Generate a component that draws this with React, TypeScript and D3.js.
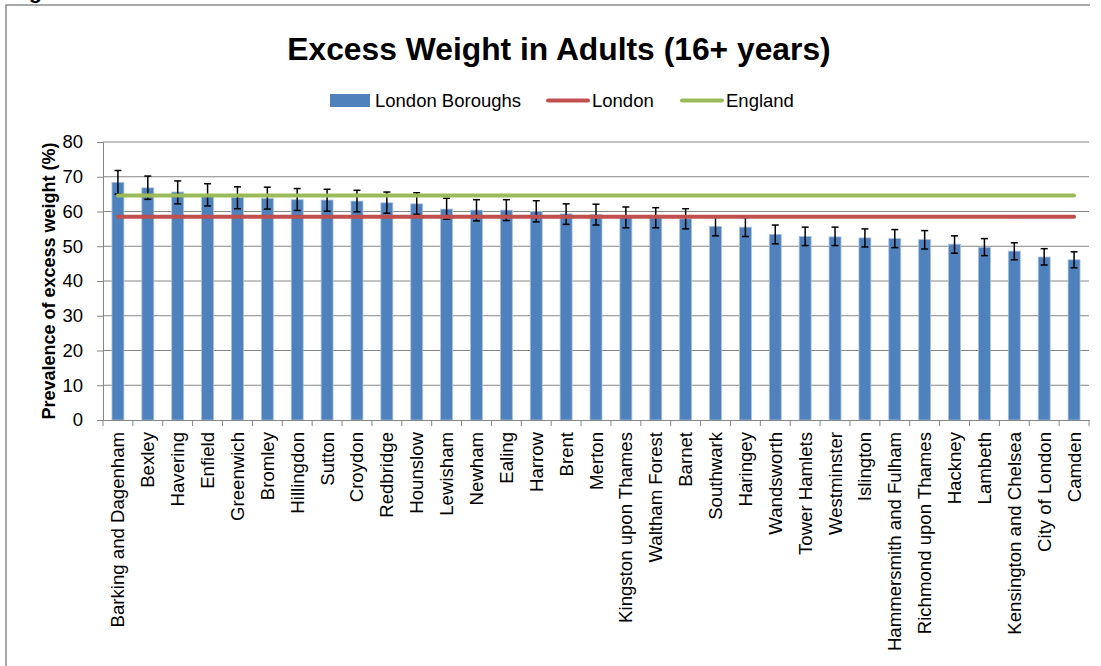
import React, { useEffect, useRef } from 'react';
import * as d3 from 'd3';

const boroughs = [
  'Barking and Dagenham', 'Bexley', 'Havering', 'Enfield', 'Greenwich', 'Bromley',
  'Hillingdon', 'Sutton', 'Croydon', 'Redbridge', 'Hounslow', 'Lewisham', 'Newham',
  'Ealing', 'Harrow', 'Brent', 'Merton', 'Kingston upon Thames', 'Waltham Forest',
  'Barnet', 'Southwark', 'Haringey', 'Wandsworth', 'Tower Hamlets', 'Westminster',
  'Islington', 'Hammersmith and Fulham', 'Richmond upon Thames', 'Hackney', 'Lambeth',
  'Kensington and Chelsea', 'City of London', 'Camden'
];
const prevalence = [
  68.4, 66.8, 65.6, 64.5, 64.0, 63.8, 63.4, 63.3, 63.0, 62.5, 62.2, 60.7, 60.4,
  60.4, 60.0, 59.3, 59.1, 58.3, 58.2, 57.9, 55.7, 55.5, 53.4, 52.8, 52.7,
  52.4, 52.2, 51.9, 50.6, 49.7, 48.6, 46.9, 46.1
];
const lowerCI = [
  65.0, 63.5, 62.2, 61.6, 60.8, 60.7, 60.3, 60.1, 59.9, 59.5, 59.2, 57.8, 57.3,
  57.4, 57.0, 56.3, 56.1, 55.3, 55.3, 55.0, 53.0, 52.8, 50.7, 50.2, 50.2,
  49.8, 49.6, 49.2, 48.0, 47.3, 46.1, 44.6, 43.8
];
const upperCI = [
  71.8, 70.2, 68.8, 68.0, 67.1, 67.0, 66.6, 66.4, 66.1, 65.6, 65.4, 63.8, 63.4,
  63.4, 63.1, 62.2, 62.1, 61.3, 61.1, 60.8, 58.5, 58.3, 56.1, 55.5, 55.5,
  55.0, 54.8, 54.5, 53.0, 52.2, 51.0, 49.3, 48.4
];
const londonValue = 58.5;
const englandValue = 64.6;
const yTicks = [0, 10, 20, 30, 40, 50, 60, 70, 80];

const FONT = "'Liberation Sans', Arial, sans-serif";

const App: React.FC = () => {
  const svgRef = useRef<SVGSVGElement>(null);

  useEffect(() => {
    const W = 1101, H = 666;
    const left = 103, right = 1089, top = 142, bottom = 420;

    const svg = d3.select(svgRef.current);
    svg.selectAll('*').remove();
    svg.attr('width', W).attr('height', H);

    svg.append('rect').attr('width', W).attr('height', H).attr('fill', '#fff');

    // cropped heading glyph above the chart frame (only its descender shows)
    svg.append('text')
      .attr('x', 29).attr('y', -1)
      .attr('font-family', FONT).attr('font-weight', 'bold').attr('font-size', 21)
      .text('g');

    // chart frame
    svg.append('path')
      .attr('d', `M6,${H} L6,5 L${right + 1},5`)
      .attr('fill', 'none').attr('stroke', '#8c8c8c').attr('stroke-width', 1.5);

    const x = d3.scaleBand<string>().domain(boroughs).range([left, right]).padding(0);
    const y = d3.scaleLinear().domain([0, 80]).range([bottom, top]);
    const bw = x.bandwidth();

    // gridlines
    svg.append('g').selectAll('line')
      .data(yTicks.filter(t => t > 0))
      .enter().append('line')
      .attr('x1', left).attr('x2', right)
      .attr('y1', d => y(d)).attr('y2', d => y(d))
      .attr('stroke', '#868686').attr('stroke-width', 1);

    // y axis
    const yAxis = svg.append('g')
      .attr('transform', `translate(${left},0)`)
      .call(d3.axisLeft(y).tickValues(yTicks).tickSize(6).tickPadding(14));
    yAxis.select('.domain').attr('stroke', '#868686');
    yAxis.selectAll('.tick line').attr('stroke', '#868686');
    yAxis.selectAll('.tick text')
      .attr('font-family', FONT).attr('font-size', 18.5).attr('fill', '#000');

    // bars
    svg.append('g').selectAll('rect')
      .data(boroughs)
      .enter().append('rect')
      .attr('x', d => x(d)! + bw * 0.3)
      .attr('width', bw * 0.4)
      .attr('y', (d, i) => y(prevalence[i]))
      .attr('height', (d, i) => bottom - y(prevalence[i]))
      .attr('fill', '#4f81bd')
      .attr('stroke', '#a9c1e0').attr('stroke-width', 0.8);

    // x axis
    const xAxis = svg.append('g')
      .attr('transform', `translate(0,${bottom})`)
      .call(d3.axisBottom(x).tickSize(0).tickPadding(0));
    xAxis.select('.domain').attr('stroke', '#868686');
    xAxis.selectAll('.tick text')
      .attr('font-family', FONT).attr('font-size', 18.6).attr('fill', '#000')
      .attr('transform', 'rotate(-90)')
      .attr('text-anchor', 'end')
      .attr('x', -12).attr('y', 0).attr('dy', '0.35em');
    // category separators
    svg.append('g').selectAll('line')
      .data(boroughs.concat(['__end']))
      .enter().append('line')
      .attr('x1', (d, i) => left + i * bw).attr('x2', (d, i) => left + i * bw)
      .attr('y1', bottom).attr('y2', bottom + 6)
      .attr('stroke', '#868686');

    // error bars
    const eb = svg.append('g').attr('stroke', '#000').attr('stroke-width', 1.5);
    boroughs.forEach((b, i) => {
      const cx = x(b)! + bw / 2;
      eb.append('line').attr('x1', cx).attr('x2', cx)
        .attr('y1', y(lowerCI[i])).attr('y2', y(upperCI[i]));
      eb.append('line').attr('x1', cx - 3.5).attr('x2', cx + 3.5)
        .attr('y1', y(lowerCI[i])).attr('y2', y(lowerCI[i]));
      eb.append('line').attr('x1', cx - 3.5).attr('x2', cx + 3.5)
        .attr('y1', y(upperCI[i])).attr('y2', y(upperCI[i]));
    });

    // reference lines
    const refLine = d3.line<[string, number]>()
      .x(d => x(d[0])! + bw / 2)
      .y(d => y(d[1]));
    svg.append('path')
      .datum(boroughs.map(b => [b, londonValue] as [string, number]))
      .attr('d', refLine)
      .attr('fill', 'none').attr('stroke', '#c0504d').attr('stroke-width', 4)
      .attr('stroke-linecap', 'round');
    svg.append('path')
      .datum(boroughs.map(b => [b, englandValue] as [string, number]))
      .attr('d', refLine)
      .attr('fill', 'none').attr('stroke', '#9bbb59').attr('stroke-width', 4)
      .attr('stroke-linecap', 'round');

    // title
    svg.append('text')
      .attr('x', 559).attr('y', 60)
      .attr('text-anchor', 'middle')
      .attr('font-family', FONT).attr('font-weight', 'bold').attr('font-size', 31.8)
      .text('Excess Weight in Adults (16+ years)');

    // y axis title
    svg.append('text')
      .attr('transform', `translate(55,${(top + bottom) / 2}) rotate(-90)`)
      .attr('text-anchor', 'middle')
      .attr('font-family', FONT).attr('font-weight', 'bold').attr('font-size', 18)
      .text('Prevalence of excess weight (%)');

    // legend
    const lg = svg.append('g').attr('font-family', FONT).attr('font-size', 18.5);
    lg.append('rect').attr('x', 330).attr('y', 94).attr('width', 40).attr('height', 13)
      .attr('fill', '#4f81bd');
    lg.append('text').attr('x', 375).attr('y', 107).text('London Boroughs');
    lg.append('line').attr('x1', 548).attr('x2', 588).attr('y1', 100.5).attr('y2', 100.5)
      .attr('stroke', '#c0504d').attr('stroke-width', 4).attr('stroke-linecap', 'round');
    lg.append('text').attr('x', 592).attr('y', 107).text('London');
    lg.append('line').attr('x1', 682).attr('x2', 722).attr('y1', 100.5).attr('y2', 100.5)
      .attr('stroke', '#9bbb59').attr('stroke-width', 4).attr('stroke-linecap', 'round');
    lg.append('text').attr('x', 726).attr('y', 107).text('England');
  }, []);

  return (
    <svg ref={svgRef} style={{ position: 'absolute', left: 0, top: 0, display: 'block' }}></svg>
  );
};

export default App;
